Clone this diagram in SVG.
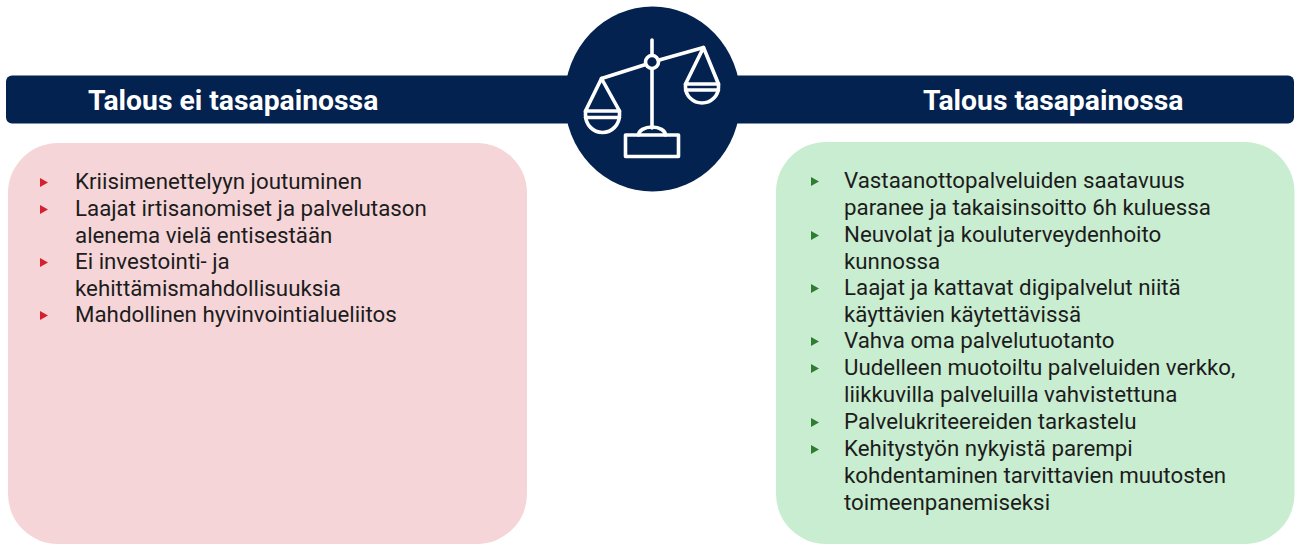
<svg xmlns="http://www.w3.org/2000/svg" width="1298" height="545" viewBox="0 0 1298 545">
  <defs>
    <style>
      .navy { fill: #03224f; }
      .hdr { font-family: Roboto, "Liberation Sans", sans-serif; font-weight: 700; font-size: 28.3px; fill: #ffffff; }
      .body { font-family: Roboto, "Liberation Sans", sans-serif; font-size: 22.3px; fill: #1c1c1c; }
      .icon { fill: none; stroke: #ffffff; stroke-width: 3.6; stroke-linejoin: round; stroke-linecap: round; }
    </style>
    <polygon id="tri" points="0,-4.5 8,0 0,4.5"/>
  </defs>
  <rect width="1298" height="545" fill="#ffffff"/>

  <g id="header-bar">
    <rect class="navy" x="6" y="75.5" width="1288" height="48" rx="6"/>
  </g>

  <g id="scale-icon">
    <ellipse class="navy" cx="652.5" cy="99" rx="88" ry="92.5"/>
    <g class="icon">
      <line x1="652" y1="40" x2="652" y2="55"/>
      <line x1="652" y1="69" x2="652" y2="128"/>
      <circle cx="652" cy="62" r="6.5"/>
      <line x1="601.5" y1="78.5" x2="645.6" y2="64.5"/>
      <line x1="658.3" y1="60.2" x2="703.5" y2="47.5"/>
      <path d="M601.5,78.5 L585.5,111 L619.5,111 Z"/>
      <path d="M585.5,111 L585.5,115 A17,17.5 0 0 0 619.5,115 L619.5,111"/>
      <line x1="585.5" y1="117.5" x2="619.5" y2="117.5"/>
      <path d="M703.5,47.5 L685.5,84 L718.5,84 Z"/>
      <path d="M685.5,84 L685.5,87 A16.5,16 0 0 0 718.5,87 L718.5,84"/>
      <line x1="685.5" y1="90" x2="718.5" y2="90"/>
      <path d="M638.5,135 A13.5,8 0 0 1 665.5,135"/>
      <rect x="625.5" y="135" width="53" height="21.5"/>
    </g>
  </g>

  <g id="left-header">
    <text class="hdr" x="88" y="110">Talous ei tasapainossa</text>
  </g>
  <g id="right-header">
    <text class="hdr" x="923" y="110">Talous tasapainossa</text>
  </g>

  <g id="left-card">
    <rect x="8" y="143" width="519" height="401" rx="50" fill="#f5d5d8"/>
    <g fill="#d42030">
      <use href="#tri" x="40" y="182.5"/>
      <use href="#tri" x="40" y="209.5"/>
      <use href="#tri" x="40" y="262.5"/>
      <use href="#tri" x="40" y="315.5"/>
    </g>
    <text class="body">
      <tspan x="75" y="189">Kriisimenettelyyn joutuminen</tspan>
      <tspan x="75" y="216">Laajat irtisanomiset ja palvelutason</tspan>
      <tspan x="75" y="242.5">alenema vielä entisestään</tspan>
      <tspan x="75" y="269">Ei investointi- ja</tspan>
      <tspan x="75" y="295.5">kehittämismahdollisuuksia</tspan>
      <tspan x="75" y="322">Mahdollinen hyvinvointialueliitos</tspan>
    </text>
  </g>

  <g id="right-card">
    <rect x="776" y="142" width="518.5" height="402" rx="50" fill="#c9edd0"/>
    <g fill="#2f7d32">
      <use href="#tri" x="811" y="181.5"/>
      <use href="#tri" x="811" y="235.5"/>
      <use href="#tri" x="811" y="288.5"/>
      <use href="#tri" x="811" y="341.5"/>
      <use href="#tri" x="811" y="368.5"/>
      <use href="#tri" x="811" y="422.5"/>
      <use href="#tri" x="811" y="449.5"/>
    </g>
    <text class="body">
      <tspan x="844" y="188">Vastaanottopalveluiden saatavuus</tspan>
      <tspan x="844" y="215">paranee ja takaisinsoitto 6h kuluessa</tspan>
      <tspan x="844" y="242">Neuvolat ja kouluterveydenhoito</tspan>
      <tspan x="844" y="268.5">kunnossa</tspan>
      <tspan x="844" y="295">Laajat ja kattavat digipalvelut niitä</tspan>
      <tspan x="844" y="321.5">käyttävien käytettävissä</tspan>
      <tspan x="844" y="348">Vahva oma palvelutuotanto</tspan>
      <tspan x="844" y="375">Uudelleen muotoiltu palveluiden verkko,</tspan>
      <tspan x="844" y="402">liikkuvilla palveluilla vahvistettuna</tspan>
      <tspan x="844" y="429">Palvelukriteereiden tarkastelu</tspan>
      <tspan x="844" y="456">Kehitystyön nykyistä parempi</tspan>
      <tspan x="844" y="483">kohdentaminen tarvittavien muutosten</tspan>
      <tspan x="844" y="510">toimeenpanemiseksi</tspan>
    </text>
  </g>
</svg>
